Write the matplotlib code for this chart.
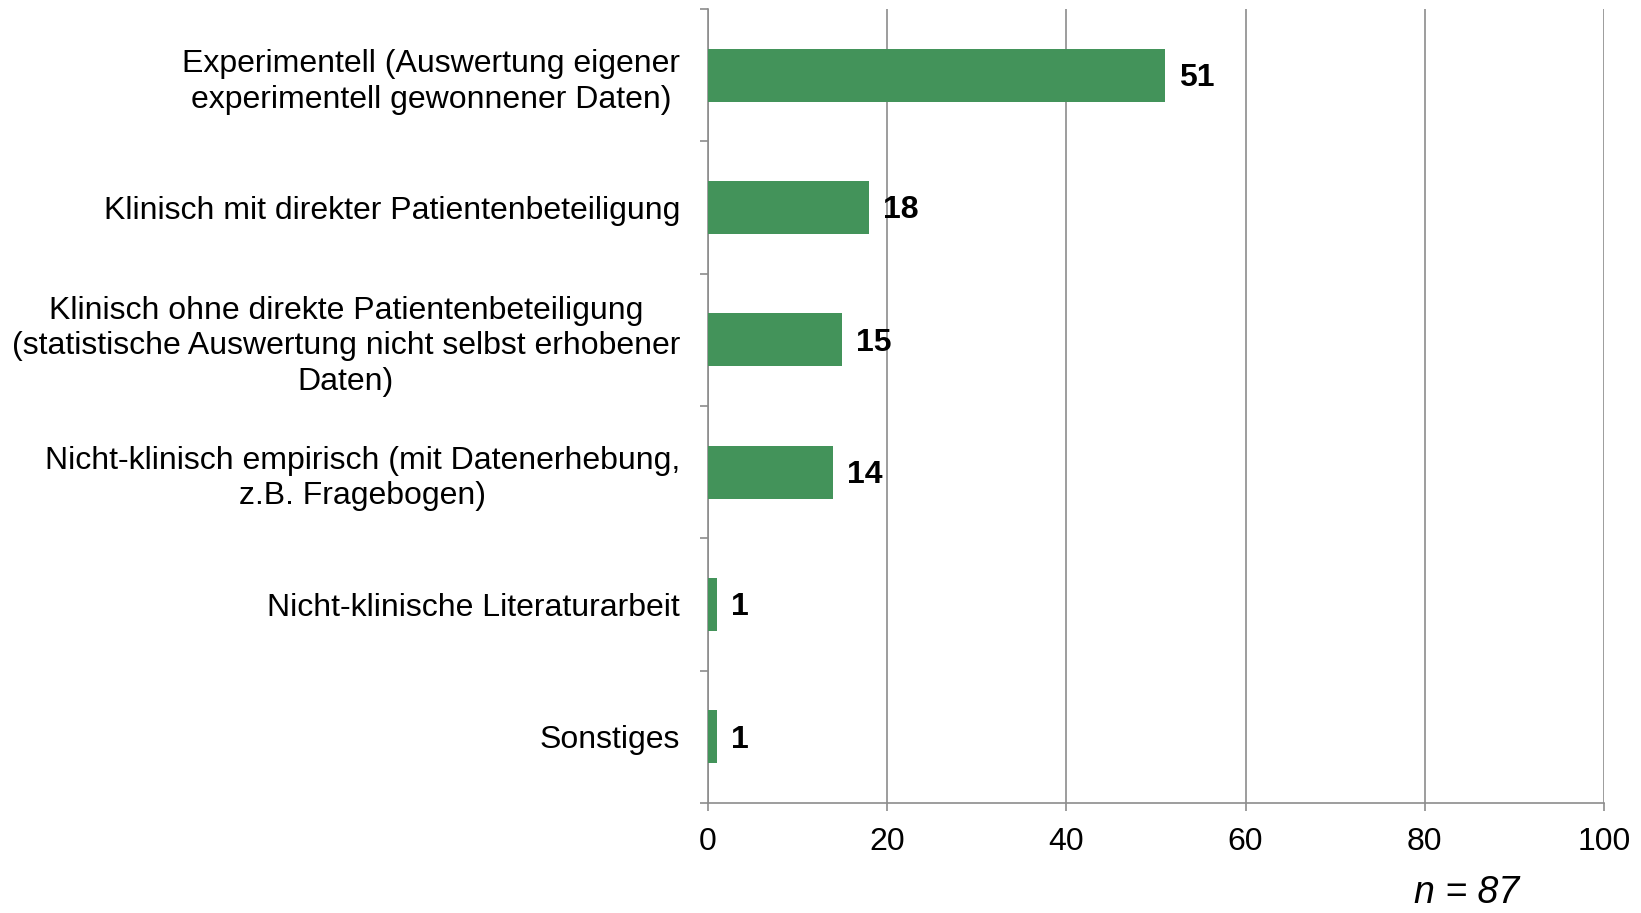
import matplotlib.pyplot as plt
import numpy as np

plt.rcParams["font.family"] = ["Liberation Sans", "DejaVu Sans"]

categories = [
    "Experimentell (Auswertung eigener\nexperimentell gewonnener Daten)",
    "Klinisch mit direkter Patientenbeteiligung",
    "Klinisch ohne direkte Patientenbeteiligung\n(statistische Auswertung nicht selbst erhobener\nDaten)",
    "Nicht-klinisch empirisch (mit Datenerhebung,\nz.B. Fragebogen)",
    "Nicht-klinische Literaturarbeit",
    "Sonstiges",
]
counts = [51, 18, 15, 14, 1, 1]
x_ticks = [0, 20, 40, 60, 80, 100]

GREEN = "#43935A"
GRAY = "#8c8c8c"

fig = plt.figure(figsize=(16.41, 9.13), dpi=100)
ax = fig.add_axes([0.4314, 0.1205, 0.5461, 0.8695])

y = np.arange(len(categories))
ax.barh(y, counts, height=0.4, color=GREEN, zorder=3)

for yi, c in zip(y, counts):
    ax.annotate(str(c), (c, yi), xytext=(10, -2), textcoords="offset points",
                ha="left", va="center", fontsize=23, fontweight="bold")

ax.set_xlim(0, 100)
ax.set_ylim(len(categories) - 0.5, -0.5)
ax.set_xticks(x_ticks)
ax.set_xticklabels([str(v) for v in x_ticks], fontsize=23)
ax.set_yticks(y)
ax.set_yticklabels(categories, fontsize=23)
for t in ax.get_yticklabels():
    t.set_multialignment("center")
    t.set_linespacing(1.25)
ax.set_yticks(np.arange(len(categories) + 1) - 0.5, minor=True)

ax.tick_params(axis="y", which="major", length=0, pad=20)
ax.tick_params(axis="y", which="minor", length=6, width=1.2, color=GRAY, direction="out")
ax.tick_params(axis="x", length=6, width=1.2, color=GRAY, direction="out", pad=11)

ax.grid(axis="x", color=GRAY, linewidth=1.2, zorder=0)
for side in ["top", "right"]:
    ax.spines[side].set_visible(False)
for side in ["left", "bottom"]:
    ax.spines[side].set_color(GRAY)
    ax.spines[side].set_linewidth(1.2)

fig.text(0.894, 0.022, "n = 87", fontsize=27, style="italic", ha="center", va="center")

fig.savefig("out.png", dpi=100)
